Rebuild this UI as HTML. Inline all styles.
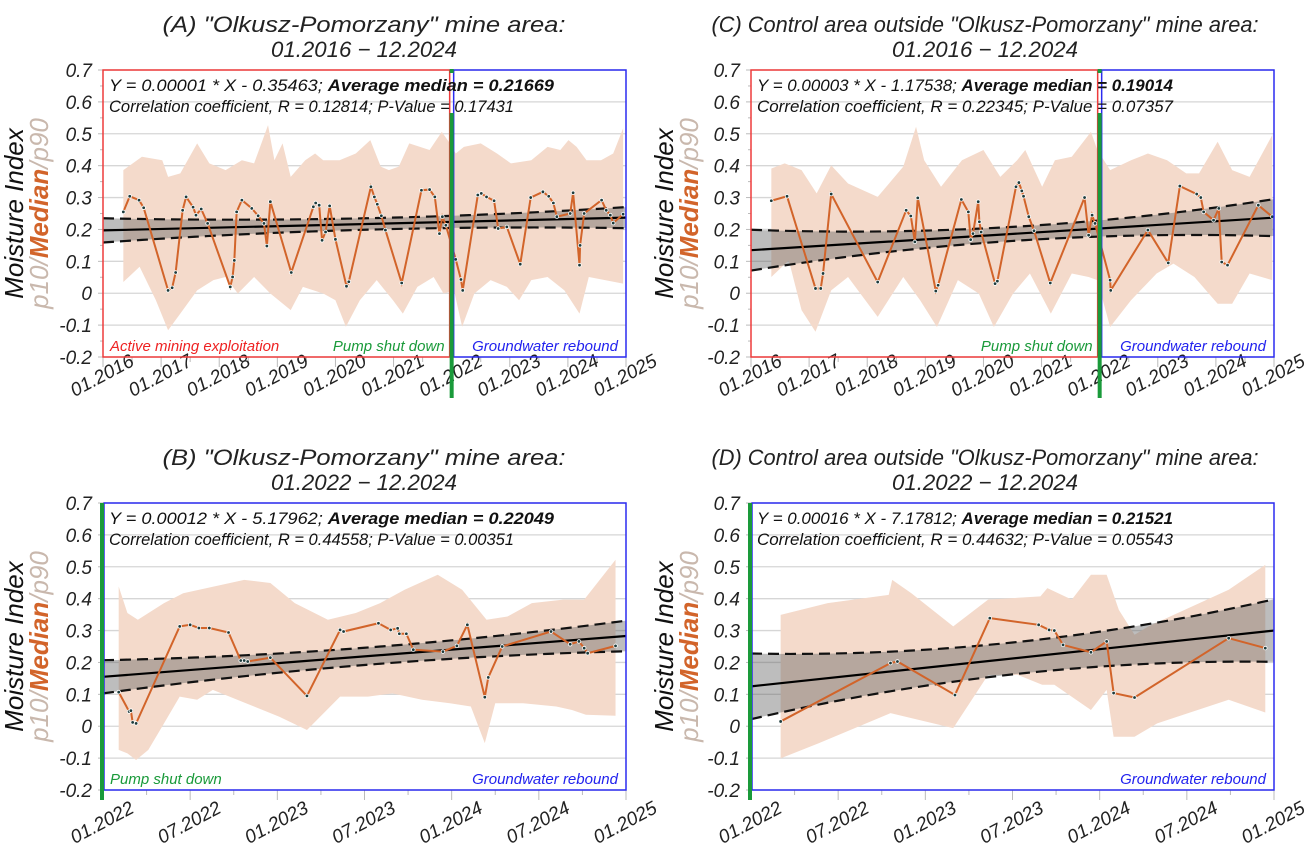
<!DOCTYPE html>
<html><head><meta charset="utf-8"><style>
html,body{margin:0;padding:0;background:#fff;}
svg{display:block;font-family:"Liberation Sans",sans-serif;}
</style></head><body>
<svg id="chart" width="1312" height="858" viewBox="0 0 1312 858"></svg>
<script>
// ---------- Panel A data ----------
const aMedT=[2016.35,2016.46,2016.62,2016.70,2017.12,2017.19,2017.25,2017.37,2017.43,2017.55,2017.60,2017.69,2017.80,2018.19,2018.23,2018.26,2018.30,2018.39,2018.56,2018.67,2018.77,2018.82,2018.88,2019.24,2019.62,2019.66,2019.72,2019.77,2019.83,2019.90,2020.00,2020.19,2020.23,2020.61,2020.67,2020.72,2020.79,2020.86,2021.14,2021.48,2021.62,2021.71,2021.79,2021.84,2021.90,2022.07,2022.16,2022.19,2022.45,2022.51,2022.60,2022.73,2022.80,2022.95,2023.18,2023.36,2023.57,2023.67,2023.75,2023.81,2024.04,2024.09,2024.20,2024.21,2024.28,2024.58,2024.66,2024.73,2024.78,2024.95];
const aMed=[0.255,0.304,0.292,0.268,0.009,0.017,0.065,0.26,0.302,0.27,0.245,0.264,0.219,0.02,0.051,0.103,0.255,0.292,0.266,0.243,0.219,0.148,0.287,0.065,0.271,0.283,0.276,0.166,0.192,0.274,0.169,0.022,0.036,0.334,0.302,0.279,0.243,0.198,0.032,0.323,0.325,0.302,0.187,0.24,0.213,0.106,0.043,0.009,0.308,0.313,0.302,0.29,0.203,0.208,0.091,0.30,0.318,0.304,0.283,0.240,0.25,0.315,0.088,0.15,0.25,0.292,0.26,0.245,0.22,0.248];
const aUpT=[2016.35,2016.67,2017.02,2017.12,2017.33,2017.62,2017.83,2018.11,2018.39,2018.60,2018.84,2018.95,2019.09,2019.23,2019.48,2019.65,2019.79,2020.07,2020.35,2020.60,2020.78,2020.92,2021.09,2021.27,2021.62,2021.83,2021.97,2022.07,2022.21,2022.50,2022.78,2023.02,2023.37,2023.65,2023.87,2024.01,2024.15,2024.32,2024.57,2024.78,2024.95];
const aUp=[0.386,0.428,0.417,0.365,0.376,0.470,0.407,0.386,0.417,0.407,0.527,0.417,0.470,0.365,0.417,0.438,0.417,0.417,0.438,0.480,0.397,0.386,0.397,0.470,0.449,0.506,0.470,0.438,0.459,0.470,0.438,0.407,0.417,0.459,0.449,0.480,0.459,0.417,0.417,0.438,0.517];
const aLoT=[2016.35,2016.63,2016.91,2017.12,2017.33,2017.62,2017.90,2018.11,2018.32,2018.60,2018.88,2019.23,2019.44,2019.79,2020.00,2020.18,2020.42,2020.71,2020.99,2021.16,2021.41,2021.69,2021.86,2022.04,2022.18,2022.39,2022.67,2022.95,2023.16,2023.37,2023.65,2023.94,2024.20,2024.36,2024.64,2024.95];
const aLo=[0.035,0.083,-0.022,-0.116,-0.064,0.009,0.041,0.051,-0.001,0.051,-0.001,-0.053,0.020,-0.001,-0.022,-0.105,-0.022,0.041,-0.022,-0.064,0.020,0.051,-0.001,0.009,-0.105,-0.001,0.041,0.020,-0.022,0.041,0.051,0.009,-0.064,0.051,0.041,0.030];
const aFit=[0.197,0.237];
const aCI=[0.038,0.018,0.033];
// ---------- Panel B data ----------
const bMedT=[2022.09,2022.15,2022.16,2022.17,2022.19,2022.44,2022.50,2022.55,2022.61,2022.72,2022.79,2022.81,2022.83,2022.96,2023.17,2023.36,2023.38,2023.58,2023.65,2023.69,2023.70,2023.74,2023.78,2023.95,2024.03,2024.09,2024.19,2024.21,2024.29,2024.57,2024.68,2024.73,2024.76,2024.78,2024.94];
const bMed=[0.107,0.046,0.049,0.012,0.009,0.313,0.318,0.308,0.308,0.294,0.206,0.206,0.203,0.215,0.095,0.302,0.297,0.323,0.302,0.307,0.290,0.290,0.240,0.234,0.252,0.318,0.091,0.153,0.250,0.297,0.257,0.266,0.245,0.229,0.252];
const bUpT=[2022.09,2022.14,2022.20,2022.35,2022.46,2022.81,2022.96,2023.10,2023.29,2023.45,2023.59,2023.73,2023.92,2024.06,2024.20,2024.32,2024.46,2024.64,2024.76,2024.94];
const bUp=[0.438,0.355,0.334,0.386,0.417,0.459,0.449,0.386,0.334,0.355,0.386,0.428,0.475,0.428,0.334,0.344,0.386,0.397,0.397,0.522];
const bLoT=[2022.09,2022.14,2022.19,2022.26,2022.35,2022.44,2022.54,2022.63,2022.82,2023.01,2023.17,2023.36,2023.52,2023.66,2023.83,2023.99,2024.11,2024.19,2024.25,2024.41,2024.60,2024.69,2024.77,2024.94];
const bLo=[-0.074,-0.085,-0.106,-0.074,0.009,0.093,0.083,0.114,0.072,0.030,-0.012,0.093,0.093,0.103,0.083,0.072,0.062,-0.053,0.072,0.072,0.062,0.051,0.036,0.033];
const bFit=[0.155,0.283];
const bCI=[0.052,0.027,0.048];
// ---------- Panel C data ----------
const cMedT=[2016.35,2016.62,2017.11,2017.20,2017.24,2017.38,2018.18,2018.67,2018.75,2018.82,2018.87,2019.18,2019.22,2019.62,2019.74,2019.78,2019.82,2019.91,2019.93,2019.96,2020.20,2020.24,2020.56,2020.61,2020.66,2020.69,2020.78,2020.87,2021.15,2021.74,2021.81,2021.87,2021.92,2022.18,2022.19,2022.83,2023.18,2023.38,2023.67,2023.74,2023.79,2023.96,2024.05,2024.10,2024.20,2024.73,2024.97];
const cMed=[0.290,0.304,0.015,0.015,0.062,0.311,0.035,0.260,0.242,0.161,0.299,0.007,0.025,0.294,0.255,0.168,0.187,0.287,0.224,0.192,0.030,0.038,0.334,0.347,0.321,0.304,0.240,0.196,0.032,0.300,0.182,0.245,0.219,0.041,0.009,0.198,0.095,0.336,0.311,0.300,0.255,0.229,0.266,0.098,0.088,0.276,0.240];
const cUpT=[2016.35,2016.58,2016.87,2017.13,2017.38,2017.67,2018.18,2018.62,2018.84,2018.98,2019.27,2019.63,2020.00,2020.29,2020.58,2020.72,2021.01,2021.23,2021.52,2021.85,2021.96,2022.18,2022.54,2022.83,2023.16,2023.49,2023.71,2024.03,2024.28,2024.58,2024.97];
const cUp=[0.391,0.407,0.386,0.313,0.401,0.344,0.302,0.397,0.522,0.417,0.334,0.417,0.449,0.365,0.417,0.449,0.334,0.417,0.428,0.506,0.449,0.386,0.417,0.438,0.417,0.376,0.376,0.475,0.386,0.365,0.496];
const cLoT=[2016.35,2016.65,2016.87,2017.11,2017.38,2017.67,2018.18,2018.62,2018.91,2019.20,2019.56,2019.92,2020.18,2020.51,2020.80,2021.16,2021.52,2021.81,2021.96,2022.18,2022.54,2022.98,2023.27,2023.63,2024.03,2024.28,2024.58,2024.97];
const cLo=[0.051,0.103,-0.053,-0.121,0.009,0.051,-0.074,0.051,-0.022,-0.106,0.041,-0.001,-0.106,-0.001,0.062,-0.064,0.062,0.051,0.041,-0.106,-0.022,0.062,0.093,0.051,-0.033,-0.033,0.062,0.041];
const cFit=[0.135,0.237];
const cCI=[0.064,0.022,0.058];
// ---------- Panel D data ----------
const dMedT=[2022.17,2022.80,2022.84,2023.17,2023.37,2023.65,2023.71,2023.74,2023.79,2023.95,2024.04,2024.08,2024.20,2024.74,2024.95];
const dMed=[0.015,0.198,0.203,0.098,0.339,0.318,0.302,0.300,0.255,0.232,0.266,0.104,0.090,0.276,0.245];
const dUpT=[2022.17,2022.44,2022.79,2022.81,2022.92,2023.16,2023.36,2023.66,2023.70,2023.84,2023.95,2024.04,2024.11,2024.20,2024.28,2024.74,2024.95];
const dUp=[0.349,0.386,0.412,0.459,0.417,0.313,0.397,0.407,0.433,0.397,0.475,0.475,0.365,0.287,0.313,0.428,0.506];
const dLoT=[2022.17,2022.39,2022.80,2023.16,2023.36,2023.53,2023.67,2023.74,2023.95,2024.04,2024.08,2024.20,2024.33,2024.74,2024.95];
const dLo=[-0.101,-0.053,0.041,-0.006,0.161,0.161,0.130,0.130,0.051,0.114,-0.033,-0.033,0.009,0.083,0.043];
const dFit=[0.125,0.30];
const dCI=[0.103,0.05,0.098];
// ---------- Axis labels ----------
const yTicks=[0.7,0.6,0.5,0.4,0.3,0.2,0.1,0,-0.1,-0.2];
const yTickLabels=["0.7","0.6","0.5","0.4","0.3","0.2","0.1","0","-0.1","-0.2"];
const xTicksLong=[2016,2017,2018,2019,2020,2021,2022,2023,2024,2025];
const xLabelsLong=["01.2016","01.2017","01.2018","01.2019","01.2020","01.2021","01.2022","01.2023","01.2024","01.2025"];
const xTicksShort=[2022,2022.5,2023,2023.5,2024,2024.5,2025];
const xLabelsShort=["01.2022","07.2022","01.2023","07.2023","01.2024","07.2024","01.2025"];

const NS="http://www.w3.org/2000/svg";
const svg=document.getElementById('chart');
function mk(tag,attrs,parent,txt){const e=document.createElementNS(NS,tag);for(const k in attrs)e.setAttribute(k,attrs[k]);if(txt!==undefined)e.textContent=txt;(parent||svg).appendChild(e);return e;}

function panel(p){
  const g=mk('g',{});
  
  
  const sx=t=>p.x0+(t-p.t0)/(p.t1-p.t0)*(p.x1-p.x0);
  const sy=v=>p.yT+(0.7-v)/0.9*(p.yB-p.yT);
  // title
  const t1=mk('text',{x:p.tc,y:p.yT-38,'text-anchor':'middle','font-size':22,'font-style':'italic',fill:'#222',textLength:p.tw,lengthAdjust:'spacingAndGlyphs'},g,p.title1);
  
  
  const t2=mk('text',{x:p.tc,y:p.yT-13,'text-anchor':'middle','font-size':22,'font-style':'italic',fill:'#222',textLength:186,lengthAdjust:'spacingAndGlyphs'},g,p.title2);
  
  
  // grid + y ticks
  yTicks.forEach((v,i)=>{
    mk('line',{x1:p.x0,x2:p.x1,y1:sy(v),y2:sy(v),stroke:'#d6d6d6','stroke-width':1.3},g);
    mk('line',{x1:p.x0-5,x2:p.x0,y1:sy(v),y2:sy(v),stroke:'#bbb','stroke-width':1},g);
    if(v>-0.2) mk('line',{x1:p.x0-3,x2:p.x0,y1:sy(v-0.05),y2:sy(v-0.05),stroke:'#bbb','stroke-width':1},g);
    const tl=mk('text',{x:p.x0-11,y:sy(v)+7,'text-anchor':'end','font-size':19,'font-style':'italic',fill:'#222'},g,yTickLabels[i]);
    
    
  });
  // x ticks
  p.xt.forEach((t,i)=>{
    mk('line',{x1:sx(t),x2:sx(t),y1:p.yB,y2:p.yB+10,stroke:'#bbb','stroke-width':1},g);
    if(i<p.xt.length-1) mk('line',{x1:sx((t+p.xt[i+1])/2),x2:sx((t+p.xt[i+1])/2),y1:p.yB,y2:p.yB+5,stroke:'#bbb','stroke-width':1},g);
    const cx=sx(t)+2, cy=p.yB+p.xo;
    const xl=mk('text',{x:cx,y:cy,'text-anchor':'middle','font-size':19,'font-style':'italic',fill:'#222',transform:`rotate(-28 ${cx} ${cy})`},g,p.xl[i]);
    
    
  });
  // p10-p90 band
  let pts=p.upT.map((t,i)=>sx(t)+','+sy(p.up[i]));
  for(let i=p.loT.length-1;i>=0;i--) pts.push(sx(p.loT[i])+','+sy(p.lo[i]));
  const band=mk('polygon',{points:pts.join(' '),fill:'#f4dacb'},g);
  
  
  // regression + CI
  const tm=(p.t0+p.t1)/2;
  const fit=t=>p.fit[0]+(p.fit[1]-p.fit[0])*(t-p.t0)/(p.t1-p.t0);
  const hw=t=>{const a=p.t0,b=tm,c=p.t1;return p.ci[0]*(t-b)*(t-c)/((a-b)*(a-c))+p.ci[1]*(t-a)*(t-c)/((b-a)*(b-c))+p.ci[2]*(t-a)*(t-b)/((c-a)*(c-b));};
  const N=40;let up=[],lo=[];
  for(let k=0;k<=N;k++){const t=p.t0+(p.t1-p.t0)*k/N;up.push(sx(t)+','+sy(fit(t)+hw(t)));lo.push(sx(t)+','+sy(fit(t)-hw(t)));}
  const ciPoly=mk('polygon',{points:up.concat(lo.slice().reverse()).join(' '),fill:'rgba(90,90,90,0.4)'},g);
  
  
  const ciU=mk('polyline',{points:up.join(' '),fill:'none',stroke:'#111','stroke-width':2.2,'stroke-dasharray':'11,6'},g);
  
  
  const ciL=mk('polyline',{points:lo.join(' '),fill:'none',stroke:'#111','stroke-width':2.2,'stroke-dasharray':'11,6'},g);
  
  
  const rl=mk('line',{x1:sx(p.t0),y1:sy(fit(p.t0)),x2:sx(p.t1),y2:sy(fit(p.t1)),stroke:'#000','stroke-width':2.2},g);
  
  
  // median
  const ml=mk('polyline',{points:p.mT.map((t,i)=>sx(t)+','+sy(p.m[i])).join(' '),fill:'none',stroke:'#d2642a','stroke-width':2},g);
  
  
  p.mT.forEach((t,i)=>{
    const c=mk('circle',{cx:sx(t),cy:sy(p.m[i]),r:1.8,fill:'#1d3b3b',stroke:'#fff','stroke-width':0.8},g);
    
    
  });
  // boxes
  if(p.split){
    const xs=sx(2022);
    mk('rect',{x:p.x0,y:p.yT,width:xs-2-p.x0,height:p.yB-p.yT,fill:'none',stroke:'#ee3b3b','stroke-width':1.5},g);
    mk('rect',{x:xs+2,y:p.yT,width:p.x1-xs-2,height:p.yB-p.yT,fill:'none',stroke:'#2b2bf0','stroke-width':1.5},g);
    mk('rect',{x:xs-2,y:p.yT-1,width:4,height:4,fill:'#1a9a3a'},g);
    const gl=mk('line',{x1:xs,x2:xs,y1:p.yT+43,y2:p.yB+41,stroke:'#1a9a3a','stroke-width':4},g);
    
    
    if(p.active){const a=mk('text',{x:p.x0+7,y:p.yB-6,'font-size':15,'font-style':'italic',fill:'#ee2222'},g,'Active mining exploitation');}
    const ps=mk('text',{x:xs-7,y:p.yB-6,'text-anchor':'end','font-size':15,'font-style':'italic',fill:'#1a9a3a'},g,'Pump shut down');
    
    
  } else {
    mk('rect',{x:p.x0+1,y:p.yT,width:p.x1-p.x0-1,height:p.yB-p.yT,fill:'none',stroke:'#2b2bf0','stroke-width':1.5},g);
    const gl=mk('line',{x1:p.x0-1,x2:p.x0-1,y1:p.yT,y2:p.yB+10,stroke:'#1a9a3a','stroke-width':4},g);
    
    
    if(p.pumpLabel){const ps=mk('text',{x:p.x0+7,y:p.yB-6,'font-size':15,'font-style':'italic',fill:'#1a9a3a'},g,'Pump shut down');}
  }
  const gr=mk('text',{x:p.x1-8,y:p.yB-6,'text-anchor':'end','font-size':15,'font-style':'italic',fill:'#2222ee'},g,'Groundwater rebound');
  
  
  // stats text
  const s1=mk('text',{x:p.x0+6,y:p.yT+21,'font-size':17,'font-style':'italic',fill:'#111',textLength:p.w1,lengthAdjust:'spacingAndGlyphs'},g);
  
  
  mk('tspan',{},s1,p.eq+'; ');
  mk('tspan',{'font-weight':'bold'},s1,'Average median = '+p.avg);
  const s2=mk('text',{x:p.x0+6,y:p.yT+42,'font-size':17,'font-style':'italic',fill:'#111',textLength:p.w2,lengthAdjust:'spacingAndGlyphs'},g,p.corr);
  
  
  // y axis title
  const cy=(p.yT+p.yB)/2;
  const yt=mk('text',{x:p.ax+23,y:cy,'text-anchor':'middle','font-size':26,'font-style':'italic',fill:'#111',transform:`rotate(-90 ${p.ax+23} ${cy})`},g,'Moisture Index');
  
  
  const ys=mk('text',{x:p.ax+48,y:cy,'text-anchor':'middle','font-size':26,'font-style':'italic',transform:`rotate(-90 ${p.ax+48} ${cy})`},g);
  
  
  mk('tspan',{fill:'#c9b8ad'},ys,'p10/');
  mk('tspan',{fill:'#d2642a','font-weight':'bold'},ys,'Median');
  mk('tspan',{fill:'#c9b8ad'},ys,'/p90');
}

panel({name:'panel-a',x0:103,x1:626,yT:70,yB:357,t0:2016,t1:2025,ax:0,xo:24,xt:xTicksLong,xl:xLabelsLong,split:true,active:true,tc:364,tw:403,w1:445,w2:405,
  title1:'(A) "Olkusz-Pomorzany" mine area:',title2:'01.2016 − 12.2024',
  mT:aMedT,m:aMed,upT:aUpT,up:aUp,loT:aLoT,lo:aLo,fit:aFit,ci:aCI,
  eq:'Y = 0.00001 * X - 0.35463',avg:'0.21669',corr:'Correlation coefficient, R = 0.12814; P-Value = 0.17431'});
panel({name:'panel-b',x0:103,x1:626,yT:503,yB:790,t0:2022,t1:2025,ax:0,xo:38,xt:xTicksShort,xl:xLabelsShort,split:false,pumpLabel:true,tc:364,tw:403,w1:445,w2:405,
  title1:'(B) "Olkusz-Pomorzany" mine area:',title2:'01.2022 − 12.2024',
  mT:bMedT,m:bMed,upT:bUpT,up:bUp,loT:bLoT,lo:bLo,fit:bFit,ci:bCI,
  eq:'Y = 0.00012 * X - 5.17962',avg:'0.22049',corr:'Correlation coefficient, R = 0.44558; P-Value = 0.00351'});
panel({name:'panel-c',x0:751,x1:1274,yT:70,yB:357,t0:2016,t1:2025,ax:650,xo:24,xt:xTicksLong,xl:xLabelsLong,split:true,active:false,tc:985,tw:547,w1:416,w2:416,
  title1:'(C) Control area outside "Olkusz-Pomorzany" mine area:',title2:'01.2016 − 12.2024',
  mT:cMedT,m:cMed,upT:cUpT,up:cUp,loT:cLoT,lo:cLo,fit:cFit,ci:cCI,
  eq:'Y = 0.00003 * X - 1.17538',avg:'0.19014',corr:'Correlation coefficient, R = 0.22345; P-Value = 0.07357'});
panel({name:'panel-d',x0:751,x1:1274,yT:503,yB:790,t0:2022,t1:2025,ax:650,xo:38,xt:xTicksShort,xl:xLabelsShort,split:false,pumpLabel:false,tc:985,tw:547,w1:416,w2:416,
  title1:'(D) Control area outside "Olkusz-Pomorzany" mine area:',title2:'01.2022 − 12.2024',
  mT:dMedT,m:dMed,upT:dUpT,up:dUp,loT:dLoT,lo:dLo,fit:dFit,ci:dCI,
  eq:'Y = 0.00016 * X - 7.17812',avg:'0.21521',corr:'Correlation coefficient, R = 0.44632; P-Value = 0.05543'});
</script>
</body></html>
